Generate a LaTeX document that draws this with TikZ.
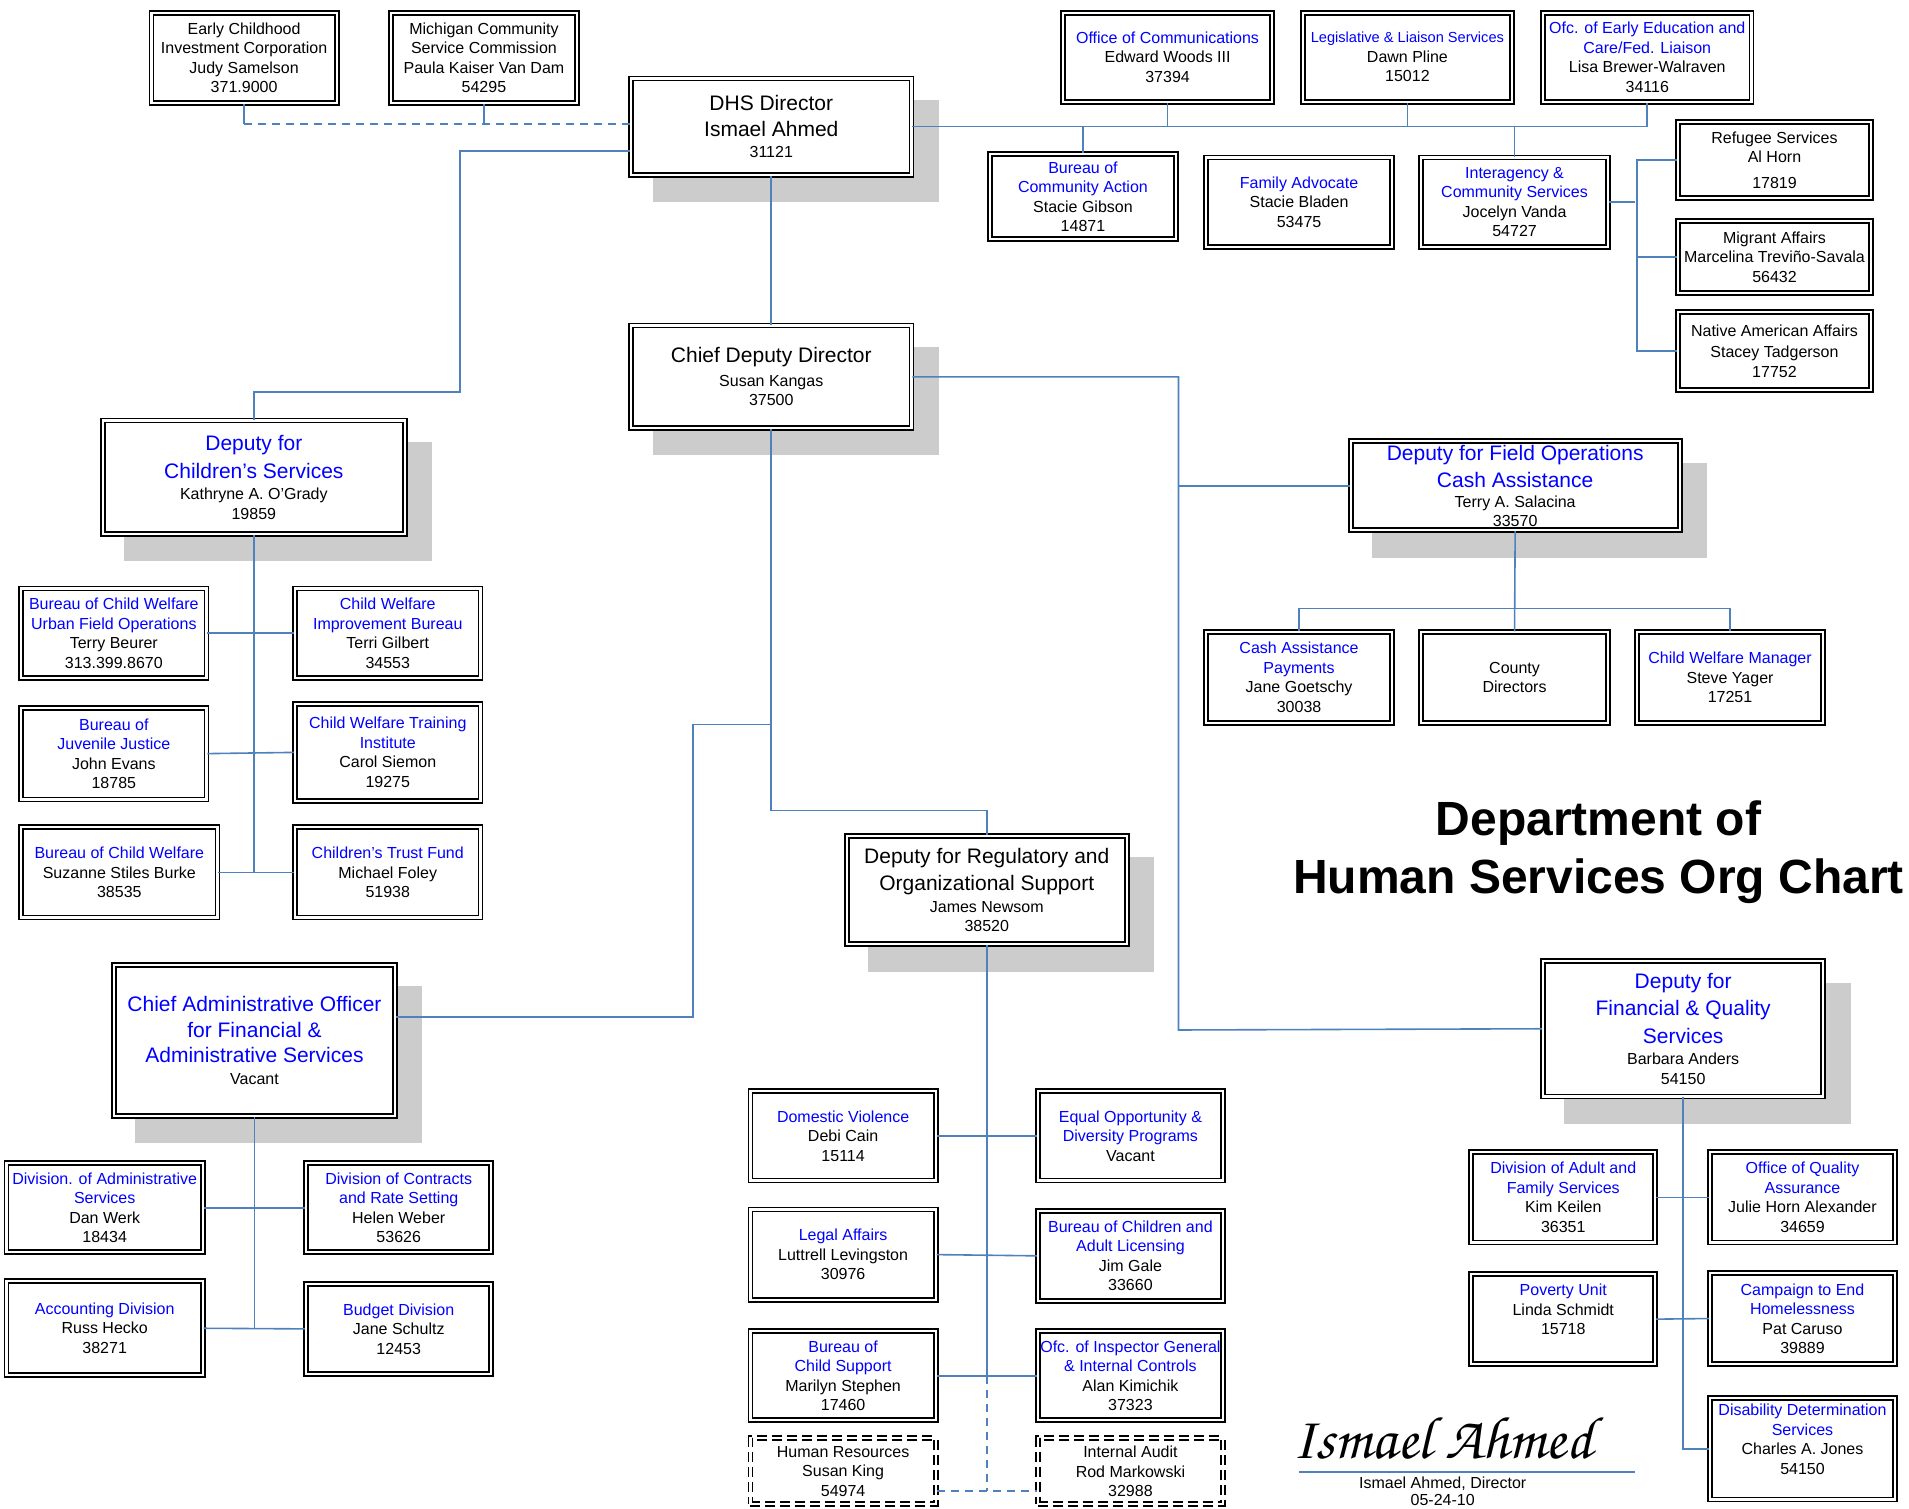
\documentclass[tikz,border=0pt]{standalone}
\usepackage{fontspec}
\setmainfont{Liberation Sans}
\newfontfamily\sigfont{texgyrechorus-mediumitalic.otf}
\usetikzlibrary{calc}
\definecolor{lineblue}{RGB}{79,129,189}
\definecolor{tblue}{RGB}{0,0,255}
\definecolor{shadowgray}{RGB}{204,204,204}
\newcommand\bt[1]{\textcolor{tblue}{#1}}
\newcommand\hd[1]{{\fontsize{10.5}{12.8}\selectfont #1}}
\newcommand\ob[7][]{\node[obox,#1,minimum width={(#5-#3-4.8)*0.60875pt},minimum height={(#6-#4-4.8)*0.60875pt}] (#2) at ({(#3+#5)/2},{(#4+#6)/2}) {#7};}
\tikzset{
  obox/.style={draw=black, line width=0.9pt, double=white, double distance=1.1pt, fill=white, inner sep=0pt, align=center, font=\fontsize{8}{9.75}\selectfont},
  dashbox/.style={dash pattern=on 5pt off 2.5pt},
  conn/.style={draw=lineblue, line width=0.8pt},
  dconn/.style={conn, dash pattern=on 4pt off 3pt},
  shadowbox/.style={fill=shadowgray}
}
\begin{document}
\begin{tikzpicture}[x=0.60875pt,y=-0.60875pt]
\useasboundingbox (0,0) rectangle (1568,1239);
\fill[white] (0,0) rectangle (1568,1239);
% shadows
\foreach \a/\b/\c/\d in {516/62/751/146, 516/265/751/354, 82/343/335/441, 91/790/327/919, 693/684/928/778, 1107/360/1382/438, 1265/787/1500/903}
  \fill[shadowbox] ({\a+20},{\b+20}) rectangle ({\c+20},{\d+20});
% top
\ob{ecic}{122}{8}{279}{87}{Early Childhood\\Investment Corporation\\Judy Samelson\\371.9000}
\ob{mcsc}{319}{8}{476}{87}{Michigan Community\\Service Commission\\Paula Kaiser Van Dam\\54295}
\ob{dhs}{516}{62}{751}{146}{\hd{DHS Director}\\[3pt]\hd{Ismael Ahmed}\\[1pt]31121}
\ob{comm}{871}{8}{1047}{86}{\bt{Office of Communications}\\Edward Woods III\\37394}
\ob{leg}{1068}{8}{1244}{86}{\bt{\fontsize{7.3}{9.75}\selectfont Legislative \& Liaison Services}\\Dawn Pline\\15012}
\ob{ofcee}{1265}{8}{1441}{86}{\bt{Ofc. of Early Education and}\\\bt{Care/Fed. Liaison}\\Lisa Brewer-Walraven\\34116}
\ob{bca}{811}{124}{968}{199}{\bt{Bureau of}\\\bt{Community Action}\\Stacie Gibson\\14871}
\ob{fa}{988}{127}{1146}{205}{\bt{Family Advocate}\\Stacie Bladen\\53475}
\ob{inter}{1165}{127}{1323}{205}{\bt{Interagency \&}\\\bt{Community Services}\\Jocelyn Vanda\\54727}
\ob{ref}{1376}{98}{1539}{165}{Refugee Services\\Al Horn\\[3pt]17819}
\ob{ma}{1376}{179}{1539}{243}{Migrant Affairs\\Marcelina Treviño-Savala\\56432}
\ob{naa}{1376}{254}{1539}{323}{Native American Affairs\\[1pt]Stacey Tadgerson\\17752}
\ob{cdd}{516}{265}{751}{354}{\hd{Chief Deputy Director}\\[2pt]Susan Kangas\\37500}
% children's
\ob{dcs}{82}{343}{335}{441}{\hd{\bt{Deputy for}}\\[3pt]\hd{\bt{Children’s Services}}\\[1pt]Kathryne A. O’Grady\\19859}
\ob{urban}{15}{481}{172}{559}{\bt{Bureau of Child Welfare}\\\bt{Urban Field Operations}\\Terry Beurer\\313.399.8670}
\ob{cwib}{240}{481}{397}{559}{\bt{Child Welfare}\\\bt{Improvement Bureau}\\Terri Gilbert\\34553}
\ob{bjj}{15}{579}{172}{659}{\bt{Bureau of}\\\bt{Juvenile Justice}\\John Evans\\18785}
\ob{cwti}{240}{576}{397}{660}{\bt{Child Welfare Training}\\\bt{Institute}\\Carol Siemon\\19275}
\ob{bcw}{15}{677}{181}{756}{\bt{Bureau of Child Welfare}\\Suzanne Stiles Burke\\38535}
\ob{ctf}{240}{677}{397}{756}{\bt{Children's Trust Fund}\\Michael Foley\\51938}
% admin
\ob{cao}{91}{790}{327}{919}{\hd{\bt{Chief Administrative Officer}}\\[3pt]\hd{\bt{for Financial \&}}\\[3pt]\hd{\bt{Administrative Services}}\\[1pt]Vacant}
\ob{das}{3}{953}{169}{1031}{\bt{Division. of Administrative}\\\bt{Services}\\Dan Werk\\18434}
\ob{dcrs}{249}{953}{406}{1031}{\bt{Division of Contracts}\\\bt{and Rate Setting}\\Helen Weber\\53626}
\ob{acct}{3}{1050}{169}{1132}{\bt{Accounting Division}\\Russ Hecko\\38271}
\ob{budget}{249}{1052}{406}{1131}{\bt{Budget Division}\\Jane Schultz\\12453}
% regulatory
\ob{drs}{693}{684}{928}{778}{\hd{Deputy for Regulatory and}\\[3pt]\hd{Organizational Support}\\[1pt]James Newsom\\38520}
\ob{dv}{614}{894}{771}{972}{\bt{Domestic Violence}\\Debi Cain\\15114}
\ob{eeo}{850}{894}{1007}{972}{\bt{Equal Opportunity \&}\\\bt{Diversity Programs}\\Vacant}
\ob{legal}{614}{991}{771}{1070}{\bt{Legal Affairs}\\Luttrell Levingston\\30976}
\ob{bcal}{850}{992}{1007}{1071}{\bt{Bureau of Children and}\\\bt{Adult Licensing}\\Jim Gale\\33660}
\ob{ocs}{614}{1091}{771}{1169}{\bt{Bureau of}\\\bt{Child Support}\\Marilyn Stephen\\17460}
\ob{oig}{850}{1091}{1007}{1169}{\bt{Ofc. of Inspector General}\\\bt{\& Internal Controls}\\Alan Kimichik\\37323}
\ob[dashbox]{hr}{614}{1179}{771}{1238}{Human Resources\\Susan King\\54974}
\ob[dashbox]{ia}{850}{1179}{1007}{1238}{Internal Audit\\Rod Markowski\\32988}
% field ops
\ob{dfo}{1107}{360}{1382}{438}{\hd{\bt{Deputy for Field Operations}}\\[3pt]\hd{\bt{Cash Assistance}}\\Terry A. Salacina\\33570}
\ob{cap}{988}{517}{1146}{596}{\bt{Cash Assistance}\\\bt{Payments}\\Jane Goetschy\\30038}
\ob{cd}{1165}{517}{1323}{596}{County\\Directors}
\ob{cwm}{1342}{517}{1500}{596}{\bt{Child Welfare Manager}\\Steve Yager\\17251}
% financial
\ob{dfq}{1265}{787}{1500}{903}{\hd{\bt{Deputy for}}\\[3pt]\hd{\bt{Financial \& Quality}}\\[3pt]\hd{\bt{Services}}\\[1pt]Barbara Anders\\54150}
\ob{dafs}{1206}{944}{1362}{1023}{\bt{Division of Adult and}\\\bt{Family Services}\\Kim Keilen\\36351}
\ob{oqa}{1402}{944}{1559}{1023}{\bt{Office of Quality}\\\bt{Assurance}\\Julie Horn Alexander\\34659}
\ob{pu}{1206}{1044}{1362}{1123}{\bt{Poverty Unit}\\Linda Schmidt\\15718\\\mbox{}}
\ob{ceh}{1402}{1043}{1559}{1123}{\bt{Campaign to End}\\\bt{Homelessness}\\Pat Caruso\\39889}
\ob{dds}{1402}{1146}{1559}{1234}{\bt{Disability Determination}\\\bt{Services}\\Charles A. Jones\\54150\\\mbox{}}
% title
\node[align=center, font=\fontsize{24}{29}\selectfont\bfseries] (title) at (1313,700) {Department of\\Human Services Org Chart};
% signature
\node[font=\sigfont\fontsize{30}{32}\selectfont] (sig) at (1185,1182) {Ismael Ahmed};
\coordinate (sigl) at (1067,1209);
\coordinate (sigr) at (1343,1209);
\draw[conn] (sigl) -- (sigr);
\node[align=center, font=\fontsize{8}{8.6}\selectfont] (sigtext) at (1185,1225) {Ismael Ahmed, Director\\05-24-10};
% connectors: director
\draw[conn] (dhs.east) -- (ofcee.south |- dhs.east) -- (ofcee.south);
\draw[conn] (comm.south) -- (comm.south |- dhs.east);
\draw[conn] (leg.south) -- (leg.south |- dhs.east);
\draw[conn] (bca.north) -- (bca.north |- dhs.east);
\draw[conn] (inter.north) -- (inter.north |- dhs.east);
\draw[conn] (ecic.south) -- ($(ecic.south |- dhs.west)+(0,-2)$);
\draw[conn] (mcsc.south) -- ($(mcsc.south |- dhs.west)+(0,-2)$);
\draw[dconn] ($(ecic.south |- dhs.west)+(0,-2)$) -- ($(dhs.west)+(0,-2)$);
\draw[conn] ($(dhs.west)+(0,20)$) -| (378,322) -| (dcs.north);
\draw[conn] (dhs.south) -- (cdd.north);
% interagency
\draw[conn] (inter.east) -- (inter.east -| 1343,0);
\draw[conn] (ref.west) -- ++(-33,0) |- (naa.west);
\draw[conn] (ma.west) -- ++(-33,0);
% chief deputy
\draw[conn] (cdd.east) -| (968,846) -- (dfq.west);
\draw[conn] (dfo.west) -- (dfo.west -| 968,0);
\draw[conn] (cdd.south) |- ($(drs.north)+(0,-20)$) -- (drs.north);
\draw[conn] ($(cao.east)+(0,-19)$) -| (569,595) -- (cdd.south |- 0,595);
% children's
\draw[conn] (dcs.south) -- (dcs.south |- bcw.east);
\draw[conn] (urban.east) -- (cwib.west);
\draw[conn] (bjj.east) -- (cwti.west);
\draw[conn] (bcw.east) -- (ctf.west);
% admin
\draw[conn] (cao.south) -- (cao.south |- acct.east);
\draw[conn] (das.east) -- (dcrs.west);
\draw[conn] (acct.east) -- (budget.west);
% regulatory
\draw[conn] (drs.south) -- (drs.south |- ocs.east);
\draw[conn] (dv.east) -- (eeo.west);
\draw[conn] (legal.east) -- (bcal.west);
\draw[conn] (ocs.east) -- (oig.west);
\draw[dconn] (drs.south |- ocs.east) -- ($(drs.south |- hr.east)+(0,16)$);
\draw[dconn] ($(hr.east)+(0,16)$) -- ($(ia.west)+(0,16)$);
% field ops
\draw[conn] (dfo.south) -- (cd.north);
\draw[conn] (cap.north) -- ++(0,-19) -| (cwm.north);
% financial
\draw[conn] (dfq.south) -- (dfq.south |- dds.west) -- (dds.west);
\draw[conn] (dafs.east) -- (oqa.west);
\draw[conn] (pu.east) -- (ceh.west);
\end{tikzpicture}
\end{document}
